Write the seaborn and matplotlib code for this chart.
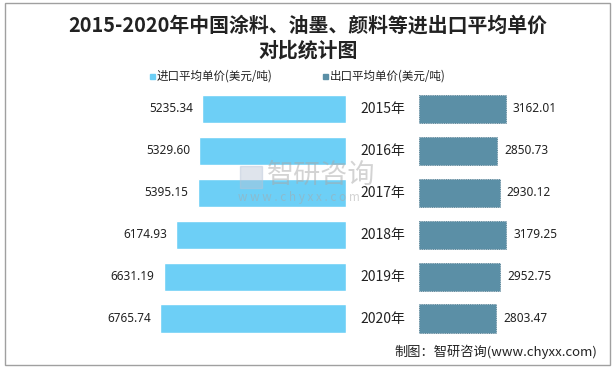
import pandas as pd
import matplotlib.pyplot as plt
import seaborn as sns
from matplotlib.patches import Rectangle

# data
years = ["2015年", "2016年", "2017年", "2018年", "2019年", "2020年"]
import_price = [5235.34, 5329.60, 5395.15, 6174.93, 6631.19, 6765.74]
export_price = [3162.01, 2850.73, 2930.12, 3179.25, 2952.75, 2803.47]

df = pd.DataFrame({"year": years, "import": import_price, "export": export_price})

sns.set_style("white")
plt.rcParams['font.family'] = ['Noto Sans CJK SC', 'DejaVu Sans']

W, H = 616, 369
fig = plt.figure(figsize=(W / 100, H / 100), dpi=100)

c_imp = "#6dcff6"
c_exp = "#5b8fa6"

# axes geometry in pixels
y_top, y_bot = 88, 339.5
px_per_unit = 0.0275
left_max, right_max = 8000, 4000
left_w = left_max * px_per_unit
right_w = right_max * px_per_unit
ax_l = fig.add_axes([(346 - left_w) / W, (H - y_bot) / H, left_w / W, (y_bot - y_top) / H])
ax_r = fig.add_axes([419 / W, (H - y_bot) / H, right_w / W, (y_bot - y_top) / H])

sns.barplot(data=df, y="year", x="import", color=c_imp, orient="h", width=0.67,
            ax=ax_l, saturation=1)
sns.barplot(data=df, y="year", x="export", color=c_exp, orient="h", width=0.67,
            ax=ax_r, saturation=1, edgecolor="#4a7488", linewidth=0.6, linestyle=":")

ax_l.set_xlim(left_max, 0)
ax_r.set_xlim(0, right_max)
for ax in (ax_l, ax_r):
    ax.set_ylim(5.5, -0.5)
    ax.set_xlabel("")
    ax.set_ylabel("")
    ax.set_xticks([])
    ax.set_yticks([])
    for s in ax.spines.values():
        s.set_visible(False)
    ax.patch.set_alpha(0)

for i, v in enumerate(import_price):
    ax_l.annotate(f"{v:.2f}", (v, i), xytext=(-6.5, 0), textcoords="offset points",
                  ha="right", va="center", fontsize=8.5, color="#222222",
                  family=["Noto Sans", "DejaVu Sans"])
for i, v in enumerate(export_price):
    ax_r.annotate(f"{v:.2f}", (v, i), xytext=(5, 0), textcoords="offset points",
                  ha="left", va="center", fontsize=8.5, color="#222222",
                  family=["Noto Sans", "DejaVu Sans"])

# year labels in the gap
for i, y in enumerate(years):
    fig.text(382.5 / W, (H - (y_top + (i + 0.5) * (y_bot - y_top) / 6)) / H, y,
             ha="center", va="center", fontsize=10, color="#222222")

# title
fig.text(308 / W, 1 - 25 / H, "2015-2020年中国涂料、油墨、颜料等进出口平均单价",
         ha="center", va="center", fontsize=14.3, fontweight="bold", color="#222222")
fig.text(308 / W, 1 - 50 / H, "对比统计图",
         ha="center", va="center", fontsize=14.3, fontweight="bold", color="#222222")

# legend
for x0, col, lab in [(150, c_imp, "进口平均单价(美元/吨)"), (323, c_exp, "出口平均单价(美元/吨)")]:
    fig.patches.append(Rectangle((x0 / W, 1 - 79 / H), 5 / W, 5 / H, color=col,
                                 transform=fig.transFigure, figure=fig))
    fig.text((x0 + 7) / W, 1 - 76 / H, lab, ha="left", va="center", fontsize=8.3, color="#222222")

# watermark
fig.text(267 / W, 1 - 175 / H, "智研咨询", ha="left", va="center", fontsize=19.5,
         color="#a8a8a8", alpha=0.5)
fig.text(238 / W, 1 - 197 / H, "w w w . c h y x x . c o m", ha="left", va="center",
         fontsize=8.5, color="#a8a8a8", alpha=0.5)
fig.patches.append(Rectangle((240 / W, 1 - 188 / H), 22 / W, 22 / H, color="#b8c4d6",
                             alpha=0.45, transform=fig.transFigure, figure=fig))

# source
fig.text(597 / W, 1 - 352 / H, "制图：智研咨询(www.chyxx.com)", ha="right", va="center",
         fontsize=9.5, color="#222222")

# outer frame
fig.patches.append(Rectangle((5 / W, 1 - 365 / H), 605 / W, 362 / H, fill=False,
                             edgecolor="#a0a0a0", linewidth=1, transform=fig.transFigure,
                             figure=fig))

fig.savefig("out.png", dpi=100)
